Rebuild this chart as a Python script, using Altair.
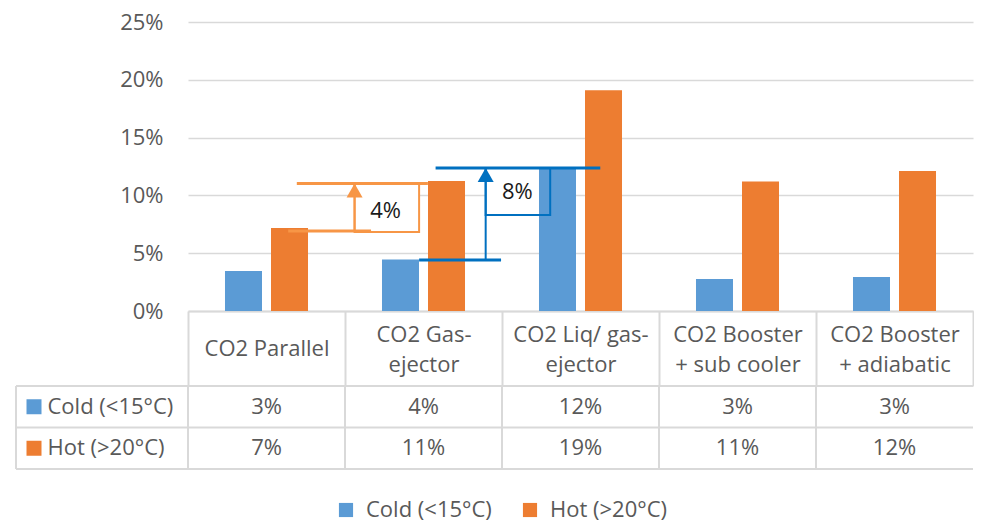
import json
import altair as alt
import pandas as pd

# ---------------- data ----------------
categories = ["CO2 Parallel", "CO2 Gas-ejector", "CO2 Liq/ gas-ejector",
              "CO2 Booster + sub cooler", "CO2 Booster + adiabatic"]
header_lines = [["CO2 Parallel"], ["CO2 Gas-", "ejector"], ["CO2 Liq/ gas-", "ejector"],
                ["CO2 Booster", "+ sub cooler"], ["CO2 Booster", "+ adiabatic"]]
series = ["Cold (<15°C)", "Hot (>20°C)"]
cold = [0.0345, 0.0445, 0.1245, 0.0277, 0.0294]
hot = [0.0718, 0.1125, 0.1910, 0.1120, 0.1210]
y_ticks = [0, 0.05, 0.10, 0.15, 0.20, 0.25]

# annotation brackets (x in category-column units, y in share)
ann_labels = ["4%", "8%"]
ann_colors = ["#F79646", "#0070C0"]
ann_low_y = [0.0692, 0.0441]
ann_high_y = [0.1103, 0.1237]
ann_box_low_y = [0.0683, 0.0830]
ann_arrow_x = [1.061, 1.896]
ann_box_right_x = [1.472, 2.307]
ann_low_x = [[0.638, 1.166], [1.472, 1.994]]
ann_high_x = [[0.693, 1.528], [1.577, 2.626]]
ann_text_x = [1.258, 2.098]
ann_text_y = [0.0865, 0.1029]

# ---------------- style ----------------
FONT = "Open Sans"
TXT = "#595959"
GRID = "#D9D9D9"
BLUE = "#5B9BD5"
ORANGE = "#ED7D31"
FS = 22
W = 157
PW = 5 * W
BH = 289
TH = 83
TICK = 75

rows = []
for c, a, b in zip(categories, cold, hot):
    rows.append({"cat": c, "series": series[0], "value": a})
    rows.append({"cat": c, "series": series[1], "value": b})
bar_df = pd.DataFrame(rows)

seg = []
box = []
arrows = []
texts = []
for i in range(2):
    col = ann_colors[i]
    seg.append({"x": ann_high_x[i][0], "x2": ann_high_x[i][1], "y": ann_high_y[i], "y2": ann_high_y[i], "c": col, "w": 3})
    seg.append({"x": ann_low_x[i][0], "x2": ann_low_x[i][1], "y": ann_low_y[i], "y2": ann_low_y[i], "c": col, "w": 3})
    seg.append({"x": ann_arrow_x[i], "x2": ann_arrow_x[i], "y": ann_low_y[i], "y2": ann_high_y[i], "c": col, "w": 2})
    box.append({"x": ann_arrow_x[i], "x2": ann_box_right_x[i], "y": ann_box_low_y[i], "y2": ann_high_y[i], "c": col})
    arrows.append({"x": ann_arrow_x[i], "y": ann_high_y[i], "c": col})
    texts.append({"x": ann_text_x[i], "y": ann_text_y[i], "t": ann_labels[i]})
seg_df = pd.DataFrame(seg)
box_df = pd.DataFrame(box)
arrow_df = pd.DataFrame(arrows)
text_df = pd.DataFrame(texts)

color_scale = alt.Scale(domain=series, range=[BLUE, ORANGE])
label_expr = "".join(
    f"datum.value === {json.dumps(c)} ? {json.dumps(l)} : " for c, l in zip(categories, header_lines)
) + "datum.value"
single_test = " || ".join(
    f"datum.value === {json.dumps(c)}" for c, l in zip(categories, header_lines) if len(l) == 1
)

yscale = alt.Scale(domain=[0, 0.25])
ann_x = alt.Scale(domain=[0, 5])

bars = alt.Chart(bar_df).mark_bar().encode(
    x=alt.X("cat:N", sort=categories,
            scale=alt.Scale(domain=categories, paddingInner=0, paddingOuter=0),
            axis=alt.Axis(title=None, orient="bottom", domain=True, domainColor=GRID, domainWidth=2,
                          ticks=True, tickBand="extent", tickSize=TICK, tickColor=GRID, tickWidth=2,
                          grid=False, labelExpr=label_expr, labelAngle=0,
                          labelFontSize=FS, labelFont=FONT, labelColor=TXT, labelBaseline="middle",
                          labelPadding={"condition": {"test": single_test, "value": 37 - TICK},
                                        "value": 23 - TICK},
                          labelLineHeight=30, labelOverlap=False, labelFlush=False, labelBound=False,
                          labelLimit=0)),
    xOffset=alt.XOffset("series:N", sort=series,
                        scale=alt.Scale(domain=series, paddingInner=0.1957, paddingOuter=0.804)),
    y=alt.Y("value:Q", scale=yscale,
            axis=alt.Axis(title=None, values=y_ticks, format=".0%", domain=False, ticks=False,
                          grid=True, gridColor=GRID, gridWidth=1.5, labelFontSize=FS, labelFont=FONT,
                          labelColor=TXT, labelPadding=25)),
    color=alt.Color("series:N", scale=color_scale,
                    legend=alt.Legend(title=None, orient="none", direction="horizontal",
                                      legendX=147, legendY=477,
                                      symbolType="square", symbolSize=200, labelFontSize=FS,
                                      labelFont=FONT, labelColor=TXT, labelOffset=9,
                                      columnPadding=27, symbolStrokeWidth=0)),
)

box_fill = alt.Chart(box_df).mark_rect(color="white").encode(
    x=alt.X("x:Q", scale=ann_x, axis=None), x2="x2:Q",
    y=alt.Y("y:Q", scale=yscale), y2="y2:Q",
)
box_stroke = alt.Chart(box_df).mark_rect(fillOpacity=0, strokeWidth=2).encode(
    x=alt.X("x:Q", scale=ann_x, axis=None), x2="x2:Q",
    y=alt.Y("y:Q", scale=yscale), y2="y2:Q",
    stroke=alt.Stroke("c:N", scale=None),
)
lines = alt.Chart(seg_df).mark_rule().encode(
    x=alt.X("x:Q", scale=ann_x, axis=None), x2="x2:Q",
    y=alt.Y("y:Q", scale=yscale), y2="y2:Q",
    color=alt.Color("c:N", scale=None),
    strokeWidth=alt.StrokeWidth("w:Q", scale=None),
)
heads = alt.Chart(arrow_df).mark_point(shape="triangle-up", filled=True, size=256, opacity=1).encode(
    x=alt.X("x:Q", scale=ann_x, axis=None),
    y=alt.Y("y:Q", scale=yscale),
    yOffset=alt.value(7),
    color=alt.Color("c:N", scale=None),
)
ann_text = alt.Chart(text_df).mark_text(font=FONT, fontSize=FS, color="#1a1a1a").encode(
    x=alt.X("x:Q", scale=ann_x, axis=None),
    y=alt.Y("y:Q", scale=yscale),
    text="t:N",
)

bar_panel = alt.layer(box_fill, bars, lines, box_stroke, heads, ann_text).resolve_scale(
    x="independent").properties(width=PW, height=BH)

# ---------------- table ----------------
tx = alt.Scale(domain=categories, paddingInner=0, paddingOuter=0)
ty = alt.Scale(domain=series, paddingInner=0, paddingOuter=0)

tbl_text = alt.Chart(bar_df).mark_text(font=FONT, fontSize=FS, color=TXT).encode(
    x=alt.X("cat:N", sort=categories, scale=tx, axis=None),
    y=alt.Y("series:N", sort=series, scale=ty,
            axis=alt.Axis(title=None, orient="left", domain=False, ticks=False, grid=False,
                          labelAlign="left", labelPadding=141, labelFontSize=FS, labelFont=FONT,
                          labelColor=TXT, labelLimit=0)),
    text=alt.Text("value:Q", format=".0%"),
)
vlines = alt.Chart(pd.DataFrame({"cat": categories})).mark_rule(color=GRID, strokeWidth=2).encode(
    x=alt.X("cat:N", sort=categories, scale=tx, axis=None, bandPosition=0),
    y=alt.value(0), y2=alt.value(TH),
)
left_vline = alt.Chart(pd.DataFrame({"series": series[:1]})).mark_rule(color=GRID, strokeWidth=2).encode(
    x=alt.value(-172), y=alt.value(0), y2=alt.value(TH),
)
hlines = alt.Chart(pd.DataFrame({"series": series})).mark_rule(color=GRID, strokeWidth=2).encode(
    y=alt.Y("series:N", sort=series, scale=ty, bandPosition=0),
    x=alt.value(-172), x2=alt.value(PW),
)
bottom_line = alt.Chart(pd.DataFrame({"series": series[-1:]})).mark_rule(color=GRID, strokeWidth=2).encode(
    y=alt.Y("series:N", sort=series, scale=ty, bandPosition=1),
    x=alt.value(-172), x2=alt.value(PW),
)
keys = alt.Chart(pd.DataFrame({"series": series})).mark_point(shape="square", filled=True, size=225,
                                                               opacity=1).encode(
    x=alt.value(-154),
    y=alt.Y("series:N", sort=series, scale=ty),
    color=alt.Color("series:N", scale=color_scale),
)

table_panel = alt.layer(vlines, left_vline, hlines, bottom_line, keys, tbl_text).properties(
    width=PW, height=TH)

chart = alt.vconcat(bar_panel, table_panel, spacing=TICK, bounds="flush").resolve_scale(
    x="independent", y="independent", color="shared"
).properties(
    padding={"left": 7, "top": 3, "right": 0, "bottom": 2}
).configure(font=FONT).configure_view(stroke=None, strokeWidth=0).configure_axisX(grid=False)

chart.save("out.html", embed_options={"renderer": "svg", "actions": False})
